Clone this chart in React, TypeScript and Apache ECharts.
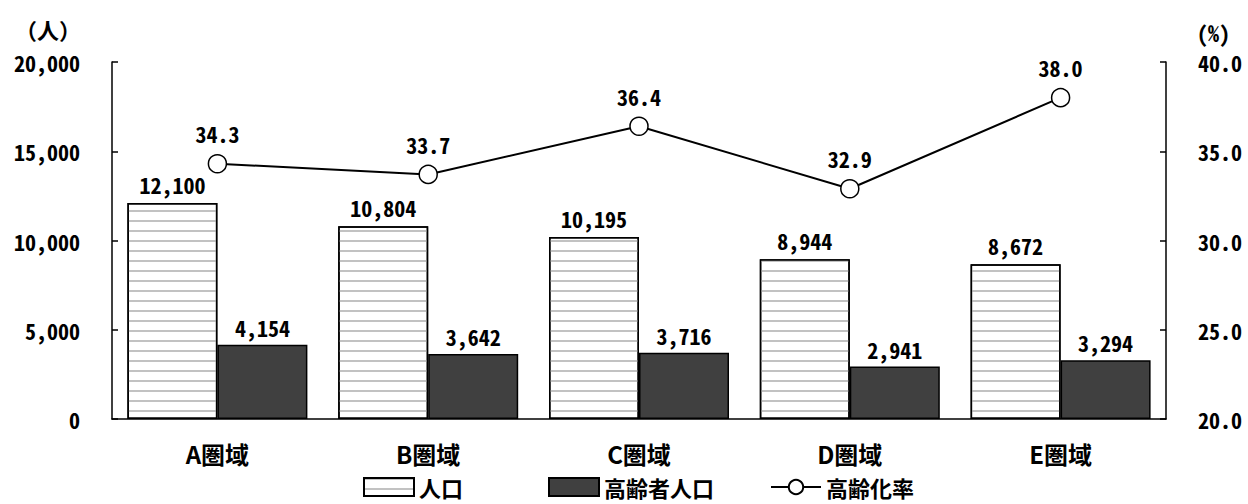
import React, { useEffect, useRef } from "react";
import * as echarts from "echarts";

// Area names
const categories = ["A圏域", "B圏域", "C圏域", "D圏域", "E圏域"];
// Population (persons)
const population = [12100, 10804, 10195, 8944, 8672];
// Elderly population (persons)
const elderly = [4154, 3642, 3716, 2941, 3294];
// Ageing rate (%)
const ageingRate = [34.3, 33.7, 36.4, 32.9, 38.0];

const seriesNames = ["人口", "高齢者人口", "高齢化率"];

const NUM_FONT = "'Noto Sans Mono CJK JP', 'Liberation Sans Narrow', 'DejaVu Sans Condensed', sans-serif";
const JP_FONT = "'Noto Sans CJK JP', 'Noto Sans', sans-serif";

const fmtInt = (v: number) => Number(v).toLocaleString("en-US");
const fmtPct = (v: number) => Number(v).toFixed(1);

export default function App() {
  const ref = useRef<HTMLDivElement>(null);

  useEffect(() => {
    document.body.style.margin = "0";
    document.documentElement.style.overflow = "hidden";
    if (!ref.current) return;
    const chart = echarts.init(ref.current, null, { renderer: "svg" });

    const numLabel = {
      fontFamily: NUM_FONT,
      fontWeight: "bold" as const,
      fontSize: 22,
      color: "#000",
    };

    const legendBase = {
      orient: "horizontal" as const,
      top: 475,
      itemWidth: 50,
      itemHeight: 18,
      itemGap: 0,
      padding: 0,
      selectedMode: false,
      textStyle: {
        fontFamily: JP_FONT,
        fontWeight: "bold" as const,
        fontSize: 22,
        lineHeight: 24,
        color: "#000",
      },
    };

    chart.setOption({
      animation: false,
      backgroundColor: "#fff",
      grid: { left: 112, right: 82, top: 62, bottom: 85, containLabel: false },
      legend: [
        { ...legendBase, left: 363, icon: "rect", data: [seriesNames[0]] },
        { ...legendBase, left: 548, icon: "rect", data: [seriesNames[1]] },
        { ...legendBase, left: 770, data: [seriesNames[2]] },
      ],
      xAxis: {
        type: "category",
        data: categories,
        axisLine: { lineStyle: { color: "#000", width: 1.5 } },
        axisTick: { show: false },
        axisLabel: {
          margin: 22,
          fontFamily: JP_FONT,
          fontWeight: "bold",
          fontSize: 24,
          color: "#000",
        },
      },
      yAxis: [
        {
          type: "value",
          min: 0,
          max: 20000,
          interval: 5000,
          name: "（人）",
          nameLocation: "end",
          nameGap: 33,
          nameTextStyle: {
            fontFamily: JP_FONT,
            fontWeight: "bold",
            fontSize: 22,
            color: "#000",
            align: "right",
            verticalAlign: "middle",
            padding: [0, 31, 0, 0],
          },
          axisLine: { show: true, lineStyle: { color: "#000", width: 1.5 } },
          axisTick: { show: true, inside: true, length: 6, lineStyle: { color: "#000", width: 1.5 } },
          splitLine: { show: false },
          axisLabel: { ...numLabel, margin: 32, formatter: (v: number) => fmtInt(v) },
        },
        {
          type: "value",
          min: 20,
          max: 40,
          interval: 5,
          position: "right",
          name: "(%)",
          nameLocation: "end",
          nameGap: 30,
          nameTextStyle: {
            ...numLabel,
            align: "left",
            verticalAlign: "middle",
            padding: [0, 0, 0, 31],
          },
          axisLine: { show: true, lineStyle: { color: "#000", width: 1.5 } },
          axisTick: { show: true, inside: true, length: 6, lineStyle: { color: "#000", width: 1.5 } },
          splitLine: { show: false },
          axisLabel: { ...numLabel, margin: 32, formatter: (v: number) => fmtPct(v) },
        },
      ],
      series: [
        {
          name: seriesNames[0],
          type: "bar",
          data: population,
          barWidth: 90,
          barGap: "0%",
          itemStyle: {
            color: "#ffffff",
            borderColor: "#000",
            borderWidth: 1.5,
            decal: {
              symbol: "rect",
              symbolSize: 1,
              color: "#c2c2c2",
              dashArrayX: [1, 0],
              dashArrayY: [2, 8],
              rotation: 0,
            },
          },
          label: {
            show: true,
            position: "top",
            distance: 8,
            ...numLabel,
            formatter: (p: any) => fmtInt(p.value),
          },
        },
        {
          name: seriesNames[1],
          type: "bar",
          data: elderly,
          barWidth: 90,
          barGap: "0%",
          itemStyle: { color: "#404040", borderColor: "#000", borderWidth: 1.5 },
          label: {
            show: true,
            position: "top",
            distance: 7,
            ...numLabel,
            formatter: (p: any) => fmtInt(p.value),
          },
        },
        {
          name: seriesNames[2],
          type: "line",
          yAxisIndex: 1,
          data: ageingRate,
          symbol: "circle",
          symbolSize: 18,
          lineStyle: { color: "#000", width: 2 },
          itemStyle: { color: "#ffffff", borderColor: "#000", borderWidth: 1.5 },
          label: {
            show: true,
            position: "top",
            distance: 10,
            ...numLabel,
            formatter: (p: any) => fmtPct(p.value),
          },
          z: 5,
        },
      ],
    });

    return () => chart.dispose();
  }, []);

  return <div ref={ref} style={{ width: 1248, height: 504 }} />;
}
